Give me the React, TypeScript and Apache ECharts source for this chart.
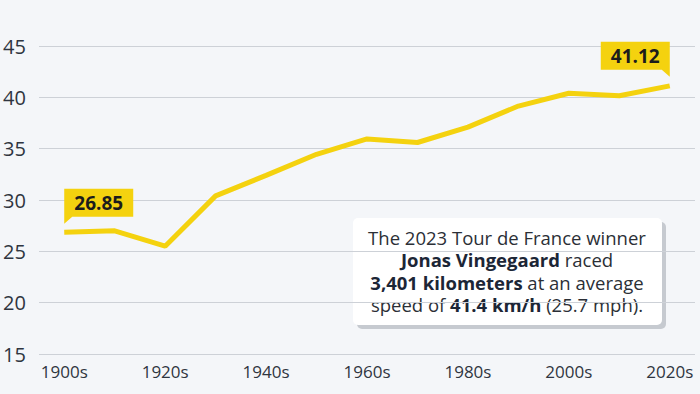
import React, { useEffect, useRef } from "react";
import * as echarts from "echarts";

const decades = ["1900s", "1910s", "1920s", "1930s", "1940s", "1950s", "1960s", "1970s", "1980s", "1990s", "2000s", "2010s", "2020s"];
const avgSpeed = [26.85, 27.0, 25.5, 30.4, 32.4, 34.45, 35.95, 35.6, 37.1, 39.15, 40.4, 40.15, 41.12];
const highlighted = [
  { decade: "1900s", value: 26.85, side: "left" },
  { decade: "2020s", value: 41.12, side: "right" },
];
const noteLines = [
  "The 2023 Tour de France winner",
  "{b|Jonas Vingegaard} raced",
  "{b|3,401 kilometers} at an average",
  "speed of {b|41.4 km/h} (25.7 mph).",
];

const FONT = "'Open Sans', 'Noto Sans', sans-serif";
const YELLOW = "#f4d20f";

export default function App() {
  const ref = useRef<HTMLDivElement>(null);
  useEffect(() => {
    document.body.style.margin = "0";
    const chart = echarts.init(ref.current!, undefined, { renderer: "svg" });
    const leftCallout = "path://M0,0 H69 V28 H8 L0,35 Z";
    const rightCallout = "path://M0,0 H69 V35 L61,28 H0 Z";
    const lineGap = 22.5;
    const firstLineY = 237;
    chart.setOption({
      animation: false,
      backgroundColor: "#f4f6f9",
      textStyle: { fontFamily: FONT },
      grid: { left: 38, right: 5, top: 46, bottom: 40 },
      xAxis: {
        type: "category",
        data: decades,
        boundaryGap: true,
        axisLine: { show: false },
        axisTick: { show: false },
        axisLabel: { interval: 1, color: "#2f3540", fontSize: 17, fontFamily: FONT, margin: 9 },
      },
      yAxis: {
        type: "value",
        min: 15,
        max: 45,
        interval: 5,
        axisLine: { show: false },
        axisTick: { show: false },
        splitLine: { lineStyle: { color: "#cdd1d7", width: 1 } },
        axisLabel: { color: "#2f3540", fontSize: 20, fontFamily: FONT, align: "left", margin: 36 },
      },
      series: [
        {
          type: "line",
          data: avgSpeed,
          symbol: "none",
          lineStyle: { color: YELLOW, width: 5 },
          markPoint: {
            symbolKeepAspect: false,
            data: highlighted.map((h) => ({
              coord: [h.decade, h.value],
              value: h.value,
              symbol: h.side === "left" ? leftCallout : rightCallout,
              symbolSize: [69, 35],
              symbolOffset: h.side === "left" ? [34.5, -26] : [-34.5, -26.5],
              itemStyle: { color: YELLOW },
              label: {
                show: true,
                position: "inside",
                offset: [0, -3.5],
                formatter: (p: any) => Number(p.value).toFixed(2),
                color: "#1c1c1c",
                fontWeight: "bold",
                fontSize: 19,
                fontFamily: FONT,
              },
            })),
          },
        },
      ],
      graphic: [
        {
          type: "group",
          z: 100,
          children: [
            { type: "rect", shape: { x: 357, y: 222, width: 309, height: 107, r: 5 }, style: { fill: "#c6cad0" } },
            { type: "rect", shape: { x: 353, y: 218, width: 309, height: 107, r: 5 }, style: { fill: "#ffffff" } },
            ...noteLines.map((line, i) => ({
              type: "text",
              x: 507,
              y: firstLineY + i * lineGap,
              style: {
                text: line,
                align: "center",
                verticalAlign: "middle",
                fontSize: 18.5,
                lineHeight: 20,
                fontFamily: FONT,
                fill: "#2b2f36",
                rich: {
                  b: { fontWeight: "bold", fontSize: 18.5, lineHeight: 20, fontFamily: FONT, fill: "#1c2636", color: "#1c2636" },
                },
              },
            })),
          ],
        },
      ],
    });
    return () => chart.dispose();
  }, []);
  return <div ref={ref} style={{ width: 700, height: 394 }} />;
}
